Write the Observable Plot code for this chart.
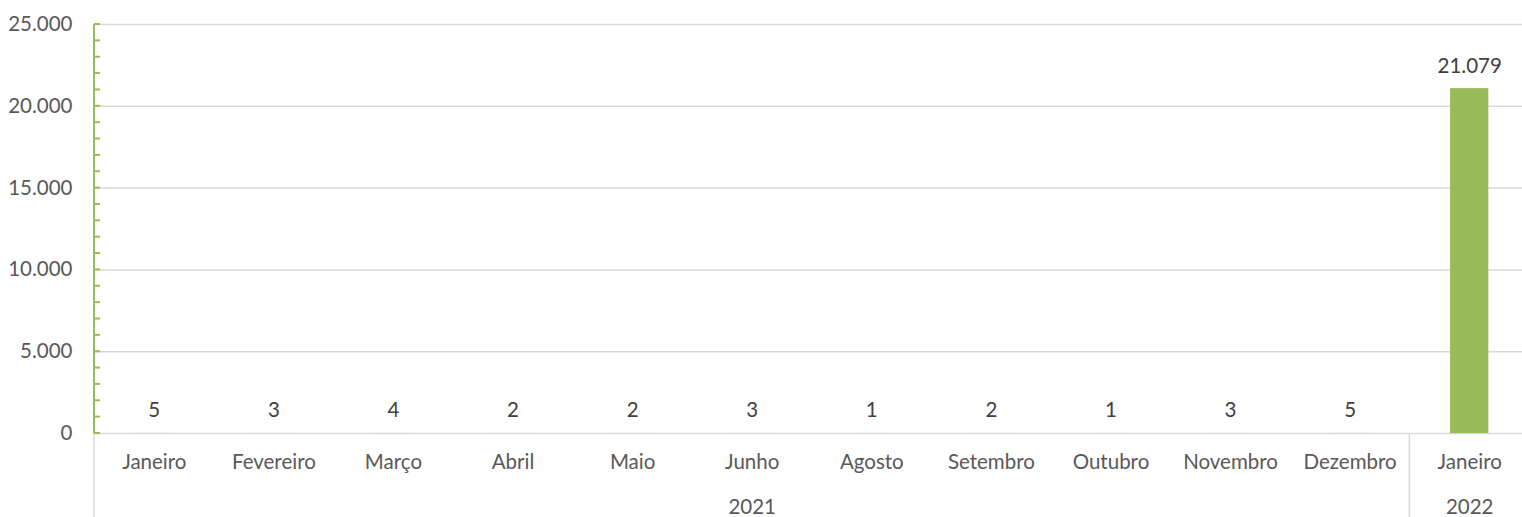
<!DOCTYPE html>
<html>
<head>
<meta charset="utf-8">
<script src="https://cdn.jsdelivr.net/npm/d3@7"></script>
<script src="https://cdn.jsdelivr.net/npm/@observablehq/plot@0.6"></script>
<style>
  html, body { margin: 0; padding: 0; background: #fff; overflow: hidden; }
  #chart svg { display: block; }
</style>
</head>
<body>
<div id="chart"></div>
<script>
const months = ["Janeiro","Fevereiro","Março","Abril","Maio","Junho","Agosto","Setembro","Outubro","Novembro","Dezembro","Janeiro"];
const years = ["2021","2021","2021","2021","2021","2021","2021","2021","2021","2021","2021","2022"];
const values = [5,3,4,2,2,3,1,2,1,3,5,21079];
const yTicks = [0,5000,10000,15000,20000,25000];
const yMinorStep = 1000;

const GREEN = "#9BBB59";
const GRID = "#d9d9d9";
const AXIS_TEXT = "#595959";
const LABEL_TEXT = "#404040";
const FONT = "Lato, 'Open Sans', sans-serif";
const FS = 20.5;

const fmt = d3.formatLocale({decimal: ",", thousands: ".", grouping: [3], currency: ["", ""]}).format(",d");

const data = months.map((m, i) => ({key: years[i] + "-" + i + "-" + m, month: m, year: years[i], value: values[i]}));
const keys = data.map(d => d.key);

// year groups
const groups = d3.groups(data, d => d.year).map(([year, rows]) => ({
  year,
  first: rows[0].key,
  middle: rows[Math.floor(rows.length / 2)].key
}));

const minorTicks = d3.range(0, yTicks[yTicks.length - 1] + 1, yMinorStep);

// custom mark: green y axis line with inward ticks
function yAxisLine(index, scales, values, dims) {
  const g = d3.create("svg:g");
  const yScale = scales.y;
  const yMax = yTicks[yTicks.length - 1];
  const x0 = dims.marginLeft;
  g.append("line")
    .attr("x1", x0).attr("x2", x0)
    .attr("y1", yScale(0)).attr("y2", yScale(yMax))
    .attr("stroke", GREEN).attr("stroke-width", 2);
  for (const t of minorTicks) {
    g.append("line")
      .attr("x1", x0).attr("x2", x0 + 6)
      .attr("y1", yScale(t)).attr("y2", yScale(t))
      .attr("stroke", GREEN).attr("stroke-width", 2);
  }
  return g.node();
}

// custom mark: category group separators below the baseline
function separators(index, scales, values, dims) {
  const g = d3.create("svg:g");
  const x = scales.x;
  const step = x.step ? x.step() : 0;
  const bw = x.bandwidth ? x.bandwidth() : 0;
  const y0 = scales.y(0);
  const bottom = dims.height;
  const xs = groups.map(gr => x(gr.first) - (step - bw) / 2);
  const last = keys[keys.length - 1];
  xs.push(x(last) + bw + (step - bw) / 2);
  for (const xv of xs) {
    g.append("line")
      .attr("x1", xv).attr("x2", xv)
      .attr("y1", y0).attr("y2", bottom)
      .attr("stroke", GRID).attr("stroke-width", 1.5);
  }
  return g.node();
}

const chart = Plot.plot({
  width: 1522,
  height: 517,
  marginLeft: 94,
  marginRight: 0,
  marginTop: 24,
  marginBottom: 84,
  style: {fontFamily: FONT, background: "#fff", overflow: "visible"},
  x: {domain: keys, range: [94, 1529], paddingInner: 0.68, paddingOuter: 0.34, round: false, axis: null, label: null},
  y: {domain: [0, 25000], range: [433, 24], axis: null, label: null},
  marks: [
    Plot.ruleY(yTicks, {stroke: GRID, strokeWidth: 1.5}),
    Plot.barY(data, {x: "key", y: "value", fill: GREEN}),
    Plot.text(data, {x: "key", y: "value", text: d => fmt(d.value), lineAnchor: "bottom", dy: -16, fontSize: FS, fill: LABEL_TEXT}),
    Plot.axisY(yTicks, {anchor: "left", label: null, tickSize: 0, tickPadding: 22, tickFormat: fmt, fontSize: FS, fill: AXIS_TEXT}),
    Plot.axisX({anchor: "bottom", label: null, tickSize: 0, tickPadding: 21, tickFormat: k => k.split("-")[2], fontSize: FS, fill: AXIS_TEXT}),
    Plot.axisX(groups.map(g => g.middle), {anchor: "bottom", label: null, tickSize: 0, tickPadding: 66, tickFormat: k => k.split("-")[0], fontSize: FS, fill: AXIS_TEXT}),
    separators,
    yAxisLine
  ]
});

document.getElementById("chart").appendChild(chart);
</script>
</body>
</html>
